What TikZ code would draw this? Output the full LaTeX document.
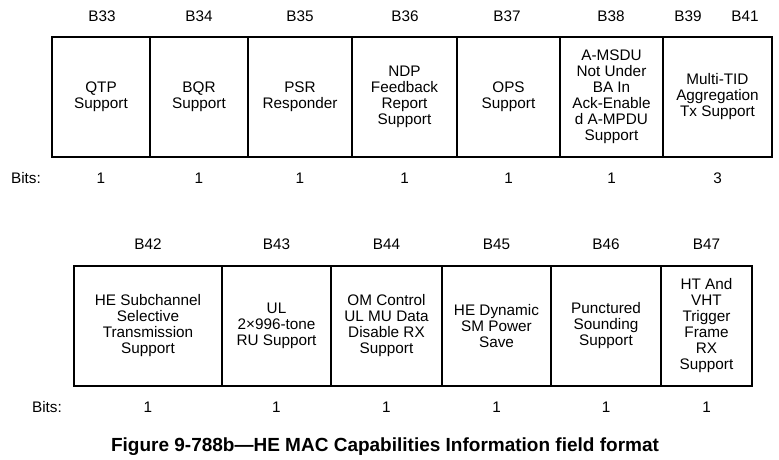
\documentclass[tikz,border=0pt]{standalone}
\usepackage{fontspec}
\setmainfont{Liberation Sans}
\begin{document}
\begin{tikzpicture}[x=1pt,y=-1pt,
  every node/.style={inner sep=0pt,outer sep=0pt},
  txt/.style={font=\fontsize{15.3}{16}\selectfont,align=center},
  field/.style={txt,draw,line width=2.6pt,minimum height=120pt},
  caption/.style={font=\fontsize{19}{19}\selectfont\bfseries}]
\useasboundingbox[fill=white] (0,0) rectangle (779,460);

% ---- first row: bits B33 to B41
\node[field,minimum width=98pt]  (f33) at (101,97)   {QTP\\Support};
\node[field,minimum width=98pt]  (f34) at (199,97)   {BQR\\Support};
\node[field,minimum width=104pt] (f35) at (300,97)   {PSR\\Responder};
\node[field,minimum width=105pt] (f36) at (404.5,97) {NDP\\Feedback\\Report\\Support};
\node[field,minimum width=103pt] (f37) at (508.5,97) {OPS\\Support};
\node[field,minimum width=103pt] (f38) at (611.5,97) {A-MSDU\\Not Under\\BA In\\Ack-Enable\\d A-MPDU\\Support};
\node[field,minimum width=109pt] (f39) at (717.5,97) {Multi-TID\\Aggregation\\Tx Support};

\foreach \n/\x in {B33/102,B34/199,B35/300,B36/405,B37/507,B38/611,B39/688,B41/745}
  \node[txt] (l\n) at (\x,16) {\n};

\node[txt] (bitsA) at (26,178) {Bits:};
\foreach \f/\v in {f33/1,f34/1,f35/1,f36/1,f37/1,f38/1,f39/3}
  \node[txt] (n\f) at (\f.center |- bitsA) {\v};

% ---- second row: bits B42 to B47
\node[field,minimum width=148pt] (f42) at (148,326)   {HE Subchannel\\Selective\\Transmission\\Support};
\node[field,minimum width=109pt] (f43) at (276.5,326) {UL\\2×996-tone\\RU Support};
\node[field,minimum width=111pt] (f44) at (386.5,326) {OM Control\\UL MU Data\\Disable RX\\Support};
\node[field,minimum width=109pt] (f45) at (496.5,326) {HE Dynamic\\SM Power\\Save};
\node[field,minimum width=110pt] (f46) at (606,326)   {Punctured\\Sounding\\Support};
\node[field,minimum width=91pt]  (f47) at (706.5,326) {HT And\\VHT\\Trigger\\Frame\\RX\\Support};

\coordinate (rowB) at (0,244);
\foreach \f/\t in {f42/B42,f43/B43,f44/B44,f45/B45,f46/B46,f47/B47}
  \node[txt] (l\t) at (\f.center |- rowB) {\t};

\node[txt] (bitsB) at (47,407) {Bits:};
\foreach \f in {f42,f43,f44,f45,f46,f47}
  \node[txt] (n\f) at (\f.center |- bitsB) {1};

\node[caption,anchor=base] (cap) at (385,451) {Figure 9-788b—HE MAC Capabilities Information field format};
\end{tikzpicture}
\end{document}
